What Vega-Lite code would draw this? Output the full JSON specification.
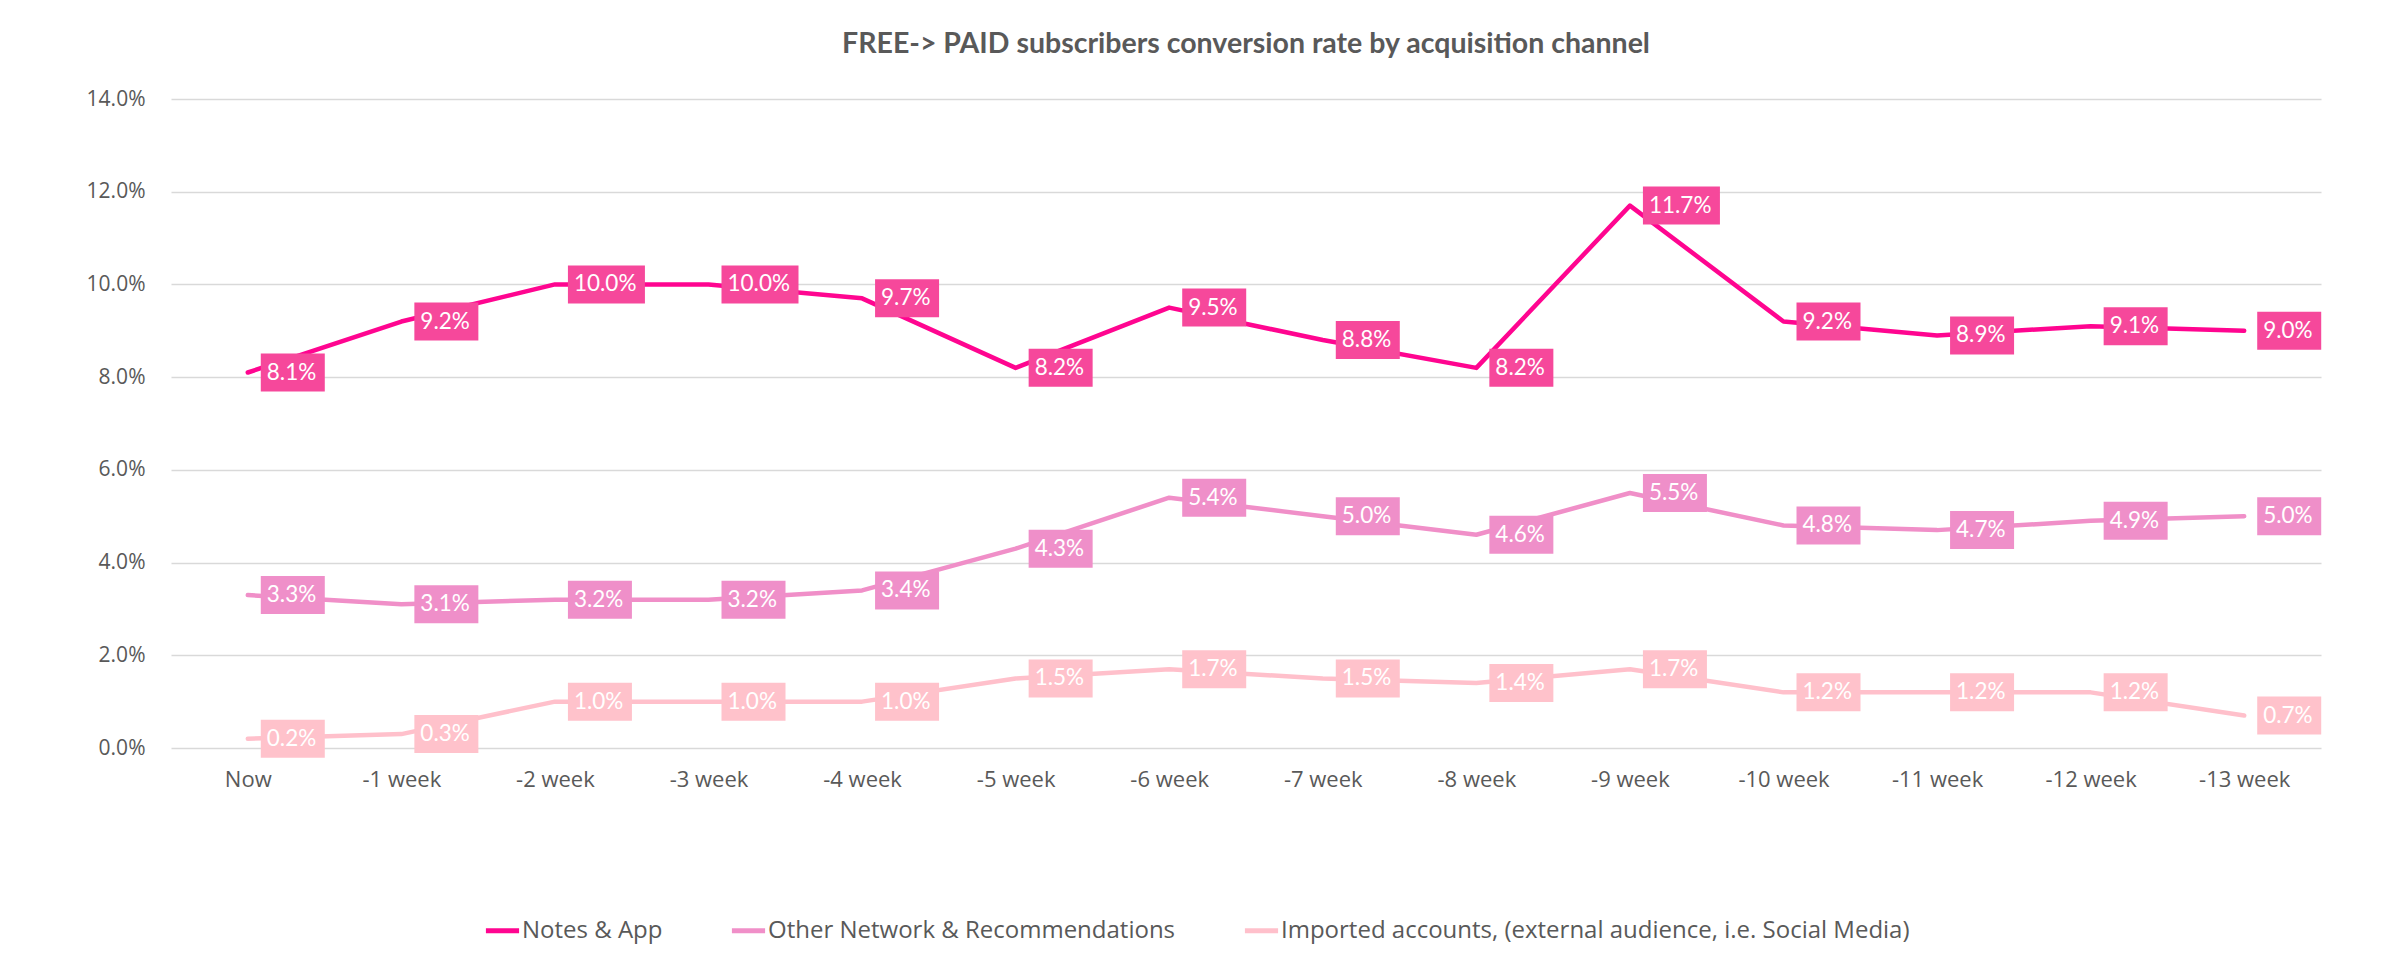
{
  "$schema": "https://vega.github.io/schema/vega-lite/v6.json",
  "autosize": {"type": "none"},
  "width": 2150,
  "height": 649,
  "padding": {"left": 171, "top": 99, "right": 79, "bottom": 221},
  "background": "white",
  "title": {
    "text": "FREE-> PAID subscribers conversion rate by acquisition channel",
    "font": "Lato",
    "fontSize": 28.5,
    "fontWeight": "bold",
    "color": "#595959",
    "anchor": "middle",
    "frame": "group",
    "offset": 30
  },
  "data": {
    "values": [
      {"week": "Now", "channel": "Notes & App", "value": 0.081},
      {"week": "-1 week", "channel": "Notes & App", "value": 0.092},
      {"week": "-2 week", "channel": "Notes & App", "value": 0.100},
      {"week": "-3 week", "channel": "Notes & App", "value": 0.100},
      {"week": "-4 week", "channel": "Notes & App", "value": 0.097},
      {"week": "-5 week", "channel": "Notes & App", "value": 0.082},
      {"week": "-6 week", "channel": "Notes & App", "value": 0.095},
      {"week": "-7 week", "channel": "Notes & App", "value": 0.088},
      {"week": "-8 week", "channel": "Notes & App", "value": 0.082},
      {"week": "-9 week", "channel": "Notes & App", "value": 0.117},
      {"week": "-10 week", "channel": "Notes & App", "value": 0.092},
      {"week": "-11 week", "channel": "Notes & App", "value": 0.089},
      {"week": "-12 week", "channel": "Notes & App", "value": 0.091},
      {"week": "-13 week", "channel": "Notes & App", "value": 0.090},
      {"week": "Now", "channel": "Other Network & Recommendations", "value": 0.033},
      {"week": "-1 week", "channel": "Other Network & Recommendations", "value": 0.031},
      {"week": "-2 week", "channel": "Other Network & Recommendations", "value": 0.032},
      {"week": "-3 week", "channel": "Other Network & Recommendations", "value": 0.032},
      {"week": "-4 week", "channel": "Other Network & Recommendations", "value": 0.034},
      {"week": "-5 week", "channel": "Other Network & Recommendations", "value": 0.043},
      {"week": "-6 week", "channel": "Other Network & Recommendations", "value": 0.054},
      {"week": "-7 week", "channel": "Other Network & Recommendations", "value": 0.050},
      {"week": "-8 week", "channel": "Other Network & Recommendations", "value": 0.046},
      {"week": "-9 week", "channel": "Other Network & Recommendations", "value": 0.055},
      {"week": "-10 week", "channel": "Other Network & Recommendations", "value": 0.048},
      {"week": "-11 week", "channel": "Other Network & Recommendations", "value": 0.047},
      {"week": "-12 week", "channel": "Other Network & Recommendations", "value": 0.049},
      {"week": "-13 week", "channel": "Other Network & Recommendations", "value": 0.050},
      {"week": "Now", "channel": "Imported accounts, (external audience, i.e. Social Media)", "value": 0.002},
      {"week": "-1 week", "channel": "Imported accounts, (external audience, i.e. Social Media)", "value": 0.003},
      {"week": "-2 week", "channel": "Imported accounts, (external audience, i.e. Social Media)", "value": 0.010},
      {"week": "-3 week", "channel": "Imported accounts, (external audience, i.e. Social Media)", "value": 0.010},
      {"week": "-4 week", "channel": "Imported accounts, (external audience, i.e. Social Media)", "value": 0.010},
      {"week": "-5 week", "channel": "Imported accounts, (external audience, i.e. Social Media)", "value": 0.015},
      {"week": "-6 week", "channel": "Imported accounts, (external audience, i.e. Social Media)", "value": 0.017},
      {"week": "-7 week", "channel": "Imported accounts, (external audience, i.e. Social Media)", "value": 0.015},
      {"week": "-8 week", "channel": "Imported accounts, (external audience, i.e. Social Media)", "value": 0.014},
      {"week": "-9 week", "channel": "Imported accounts, (external audience, i.e. Social Media)", "value": 0.017},
      {"week": "-10 week", "channel": "Imported accounts, (external audience, i.e. Social Media)", "value": 0.012},
      {"week": "-11 week", "channel": "Imported accounts, (external audience, i.e. Social Media)", "value": 0.012},
      {"week": "-12 week", "channel": "Imported accounts, (external audience, i.e. Social Media)", "value": 0.012},
      {"week": "-13 week", "channel": "Imported accounts, (external audience, i.e. Social Media)", "value": 0.007}
    ]
  },
  "encoding": {
    "x": {
      "field": "week",
      "type": "ordinal",
      "sort": ["Now", "-1 week", "-2 week", "-3 week", "-4 week", "-5 week", "-6 week", "-7 week", "-8 week", "-9 week", "-10 week", "-11 week", "-12 week", "-13 week"],
      "scale": {"type": "point", "padding": 0.5},
      "axis": {
        "title": null,
        "labelAngle": 0,
        "labelFont": "Open Sans",
        "labelFontSize": 22,
        "labelColor": "#595959",
        "labelPadding": 21,
        "ticks": false,
        "domain": false,
        "grid": false
      }
    },
    "y": {
      "field": "value",
      "type": "quantitative",
      "scale": {"domain": [0, 0.14], "nice": false},
      "axis": {
        "title": null,
        "format": ".1%",
        "values": [0, 0.02, 0.04, 0.06, 0.08, 0.1, 0.12, 0.14],
        "labelFont": "Open Sans",
        "labelFontSize": 21,
        "labelColor": "#595959",
        "labelPadding": 26,
        "ticks": false,
        "domain": false,
        "grid": true,
        "gridColor": "#D9D9D9",
        "gridWidth": 1.5
      }
    }
  },
  "layer": [
    {
      "mark": {"type": "line", "strokeWidth": 4.5, "strokeCap": "round", "strokeJoin": "round"},
      "encoding": {
        "color": {
          "field": "channel",
          "type": "nominal",
          "sort": ["Notes & App", "Other Network & Recommendations", "Imported accounts, (external audience, i.e. Social Media)"],
          "scale": {
            "domain": ["Notes & App", "Other Network & Recommendations", "Imported accounts, (external audience, i.e. Social Media)"],
            "range": ["#FF0590", "#F08FC8", "#FFC0CB"]
          },
          "legend": {
            "title": null,
            "orient": "none",
            "legendX": 312,
            "legendY": 812,
            "direction": "horizontal",
            "symbolType": "stroke",
            "symbolSize": 1100,
            "symbolStrokeWidth": 5,
            "labelFont": "Open Sans",
            "labelFontSize": 24,
            "labelColor": "#595959",
            "labelOffset": 0,
            "labelLimit": 0,
            "columnPadding": 58
          }
        }
      }
    },
    {
      "mark": {"type": "point", "filled": true, "opacity": 1, "size": 1600, "strokeWidth": 0},
      "encoding": {
        "fill": {
          "field": "channel",
          "type": "nominal",
          "scale": {
            "domain": ["Notes & App", "Other Network & Recommendations", "Imported accounts, (external audience, i.e. Social Media)"],
            "range": ["#F6489B", "#EF8FC9", "#FFC2CB"]
          },
          "legend": null
        },
        "shape": {
          "condition": {"test": "datum.value >= 0.1", "value": "M0.65,-0.95L4.5,-0.95L4.5,0.95L0.65,0.95Z"},
          "value": "M0.65,-0.95L3.85,-0.95L3.85,0.95L0.65,0.95Z"
        }
      }
    },
    {
      "mark": {"type": "text", "font": "Lato", "fontSize": 22.5, "color": "white", "align": "left", "baseline": "middle", "dx": 19},
      "encoding": {
        "text": {"field": "value", "type": "quantitative", "format": ".1%"}
      }
    }
  ],
  "config": {
    "view": {"stroke": null}
  }
}
